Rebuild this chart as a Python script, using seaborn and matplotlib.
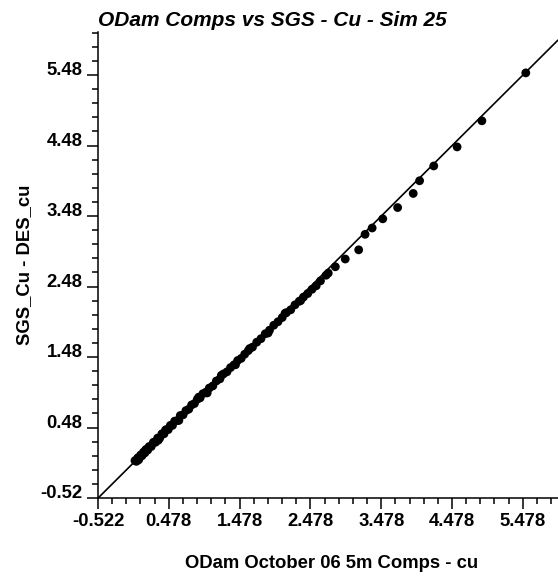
import numpy as np
import pandas as pd
import seaborn as sns
import matplotlib.pyplot as plt
from matplotlib.ticker import FixedLocator

# composite grades (x) vs simulated grades (y)
comps_cu = [0.00, 0.02, 0.04, 0.06, 0.08, 0.10, 0.12, 0.14, 0.16, 0.18,
            0.20, 0.23, 0.26, 0.29, 0.32, 0.35, 0.38, 0.41, 0.44, 0.47,
            0.50, 0.53, 0.56, 0.60, 0.64, 0.68, 0.72, 0.76, 0.80, 0.84,
            0.88, 0.92, 0.96, 1.00, 1.05, 1.10, 1.15, 1.20, 1.25, 1.30,
            1.35, 1.40, 1.45, 1.50, 1.55, 1.60, 1.66, 1.72, 1.78, 1.84,
            1.90, 1.96, 2.02, 2.08, 2.14, 2.20, 2.26, 2.32, 2.38, 2.44,
            2.50, 2.56, 2.62, 2.70, 2.73, 2.83, 2.97, 3.16, 3.25, 3.35,
            3.50, 3.71, 3.93, 4.02, 4.22, 4.55, 4.90, 5.52,
            0.05, 0.15, 0.33, 0.43, 0.62, 0.90, 1.02, 1.22, 1.42, 1.62,
            1.88, 2.12, 2.34]
sgs_cu = [0.01, 0.00, 0.05, 0.04, 0.09, 0.08, 0.13, 0.12, 0.17, 0.16,
          0.21, 0.21, 0.27, 0.27, 0.33, 0.33, 0.39, 0.39, 0.45, 0.45,
          0.51, 0.51, 0.57, 0.58, 0.65, 0.66, 0.72, 0.74, 0.80, 0.82,
          0.88, 0.90, 0.96, 0.98, 1.04, 1.07, 1.14, 1.17, 1.24, 1.27,
          1.33, 1.37, 1.43, 1.46, 1.52, 1.57, 1.62, 1.69, 1.74, 1.81,
          1.86, 1.93, 1.98, 2.04, 2.11, 2.15, 2.22, 2.27, 2.33, 2.38,
          2.44, 2.49, 2.56, 2.64, 2.67, 2.76, 2.87, 3.00, 3.22, 3.31,
          3.44, 3.60, 3.80, 3.98, 4.19, 4.46, 4.83, 5.51,
          0.02, 0.16, 0.30, 0.44, 0.58, 0.91, 0.97, 1.22, 1.37, 1.60,
          1.82, 2.10, 2.28]

x_ticks = [-0.522, 0.478, 1.478, 2.478, 3.478, 4.478, 5.478]
y_ticks = [-0.52, 0.48, 1.48, 2.48, 3.48, 4.48, 5.48]
x_lim = (-0.522, 5.975)
y_lim = (-0.52, 6.09)

sns.set_style('ticks')
plt.rcParams['font.family'] = ['Liberation Sans', 'DejaVu Sans']
plt.rcParams['text.color'] = 'black'
plt.rcParams['axes.labelcolor'] = 'black'
plt.rcParams['xtick.color'] = 'black'
plt.rcParams['ytick.color'] = 'black'

data = pd.DataFrame({'comps': comps_cu, 'sgs': sgs_cu})

fig = plt.figure(figsize=(5.58, 5.76), dpi=100)
ax = fig.add_axes([98 / 558, 1 - 498 / 576, 460 / 558, 466 / 576])

ax.axline((0, 0), slope=1, color='black', lw=1.2, zorder=1)
sns.scatterplot(data=data, x='comps', y='sgs', ax=ax, color='black',
                s=40, edgecolor='none', zorder=2)

ax.set_xlim(*x_lim)
ax.set_ylim(*y_lim)
ax.xaxis.set_major_locator(FixedLocator(x_ticks))
ax.yaxis.set_major_locator(FixedLocator(y_ticks))
ax.xaxis.set_minor_locator(FixedLocator(np.arange(-0.522, 6.0, 0.2)))
ax.yaxis.set_minor_locator(FixedLocator(np.arange(-0.52, 6.1, 0.2)))
ax.set_xticklabels([f'{v:.3f}' for v in x_ticks], fontsize=13.3, fontweight='bold')
ax.set_yticklabels([f'{v:.2f}' for v in y_ticks], fontsize=13.3, fontweight='bold')
for t in ax.get_yticklabels():
    t.set_verticalalignment('baseline')

ax.tick_params(which='major', direction='out', length=8, width=1.1, pad=3)
ax.tick_params(which='minor', direction='out', length=4.5, width=1.1)

sns.despine(ax=ax)
for side in ['left', 'bottom']:
    ax.spines[side].set_linewidth(1.1)
    ax.spines[side].set_color('black')

ax.set_xlabel('ODam October 06 5m Comps - cu', fontsize=13.3, fontweight='bold',
              va='baseline')
ax.xaxis.set_label_coords(0.507, -0.150)
ax.set_ylabel('SGS_Cu - DES_cu', fontsize=13.3, fontweight='bold', va='center')
ax.yaxis.set_label_coords(-0.160, 0.5)

ax.set_title('ODam Comps vs SGS - Cu - Sim 25', loc='left', fontsize=15,
             fontweight='bold', fontstyle='italic', pad=4)

fig.savefig('out.png', dpi=100)
